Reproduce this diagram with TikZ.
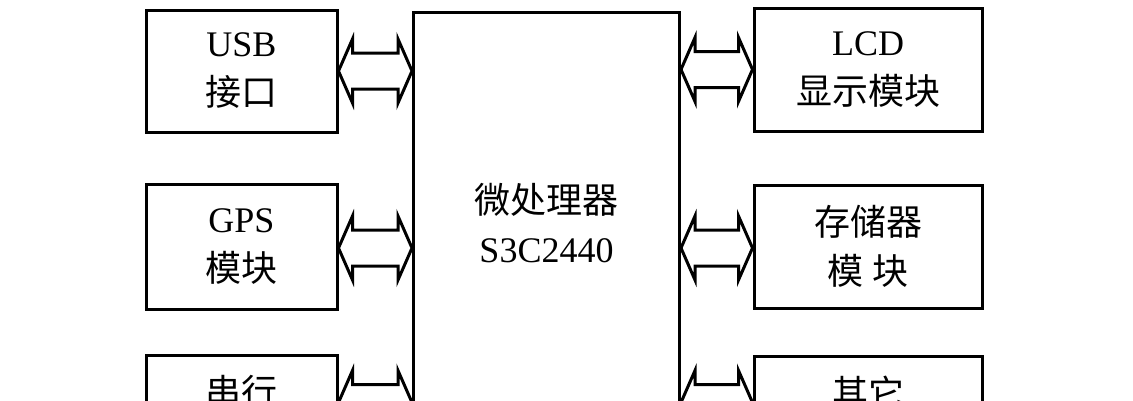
\documentclass[tikz,border=0pt]{standalone}
\usepackage{fontspec}
\setmainfont{Liberation Serif}
\newfontfamily\cjk{Noto Sans CJK SC}
\usetikzlibrary{positioning,calc}
\newcommand{\zh}[1]{{\cjk #1}}
\newcommand{\busarrow}[2]{%
	\draw[bus] let \p1=(#1), \p2=(#2) in
		(\x1,\y1) -- (\x1+14pt,\y1+32pt) -- (\x1+14pt,\y1+18pt) -- (\x2-14pt,\y1+18pt) -- (\x2-14pt,\y1+32pt) -- (\x2,\y1)
		-- (\x2-14pt,\y1-32pt) -- (\x2-14pt,\y1-18pt) -- (\x1+14pt,\y1-18pt) -- (\x1+14pt,\y1-32pt) -- cycle;}

\begin{document}
\begin{tikzpicture}[x=1pt, y=-1pt,
	block/.style={draw, line width=3pt, inner sep=0pt, align=center, font={\fontsize{36}{49}\selectfont}},
	bus/.style={draw, line width=3pt, fill=white, line join=miter}]
	\useasboundingbox (0,0) rectangle (1133,400);
	\clip (0,0) rectangle (1133,400);

	\node[block, minimum width=191pt, minimum height=122pt] (usb) at (241.5,71) {USB\\\zh{接口}};
	\node[block, minimum width=191pt, minimum height=125pt, below=49pt of usb] (gps) {GPS\\\zh{模块}};
	\node[block, minimum width=191pt, minimum height=122pt, below=43pt of gps] (serial) {\zh{串行}\\\phantom{\zh{接口}}};

	\node[block, minimum width=266pt, minimum height=422pt, anchor=north west] (cpu) at (412,11) {\zh{微处理器}\\S3C2440};

	\node[block, minimum width=228pt, minimum height=123pt] (lcd) at (868,69.5) {LCD\\\zh{显示模块}};
	\node[block, minimum width=228pt, minimum height=123pt, below=51pt of lcd] (mem) {\zh{存储器}\\\zh{模\ 块}};
	\node[block, minimum width=228pt, minimum height=122pt, below=45pt of mem] (other) {\zh{其它}\\\phantom{\zh{模块}}};

	\busarrow{usb.east}{cpu.west}
	\busarrow{$(gps.east)+(0,1.5)$}{cpu.west}
	\busarrow{$(serial.north east)+(0,49)$}{cpu.west}
	\busarrow{cpu.east |- lcd.west}{lcd.west}
	\busarrow{$(cpu.east |- mem.west)+(0,1.5)$}{mem.west}
	\busarrow{$(cpu.east |- other.north west)+(0,48)$}{other.west}
\end{tikzpicture}
\end{document}
